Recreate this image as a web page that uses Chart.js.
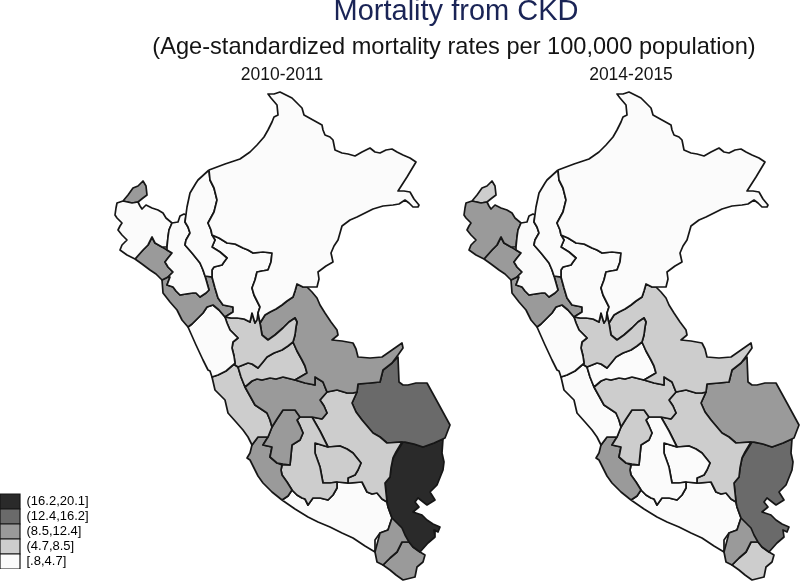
<!DOCTYPE html>
<html><head><meta charset="utf-8">
<style>html,body{margin:0;padding:0;background:#fff}canvas{display:block}</style>
<script src="https://cdn.jsdelivr.net/npm/chart.js@4"></script></head>
<body><canvas id="c" width="800" height="581"></canvas>
<script>
// Region outlines (map units)
const tumbes=[[123,201],[128,195],[133,188],[138,186],[143,181],[146,186],[147,195],[143,198],[138,202],[132,203]];
const piura=[[123,201],[132,203],[138,202],[140,206],[142,209],[146,205],[152,208],[158,210],[163,213],[166,218],[172,223],[169,230],[168,237],[167,247],[162,247],[155,243],[152,237],[148,245],[143,250],[135,259],[127,255],[120,250],[122,245],[127,240],[122,235],[118,230],[120,226],[122,223],[117,218],[115,215],[116,208],[117,203]];
const lambayeque=[[135,259],[143,250],[148,245],[152,237],[155,243],[162,247],[167,250],[172,253],[168,258],[165,262],[168,267],[173,272],[168,277],[162,280],[156,274],[150,270],[142,264]];
const cajamarca=[[172,223],[178,222],[180,216],[184,214],[186,215],[185,222],[188,227],[190,233],[186,240],[185,245],[192,253],[200,263],[203,270],[205,276],[209,290],[206,293],[200,297],[196,293],[193,293],[186,294],[180,295],[176,291],[173,287],[167,285],[170,277],[168,277],[173,272],[168,267],[165,262],[168,258],[172,253],[167,250],[167,247],[168,237],[169,230]];
const amazonas=[[209,170],[210,180],[214,188],[217,200],[214,212],[208,223],[211,230],[212,235],[215,240],[212,247],[220,252],[227,258],[224,262],[222,265],[214,267],[212,270],[212,277],[205,276],[203,270],[200,263],[192,253],[185,245],[186,240],[190,233],[188,227],[185,222],[187,207],[190,193],[196,183],[198,180]];
const loreto=[[209,170],[225,164],[240,159],[250,152],[257,145],[264,137],[268,130],[272,122],[274,117],[278,115],[277,105],[271,98],[268,94],[274,94],[280,92],[286,95],[292,98],[298,104],[302,108],[304,115],[313,120],[322,125],[323,130],[325,135],[330,137],[333,140],[335,150],[342,153],[348,154],[355,156],[362,152],[370,148],[375,152],[380,153],[386,150],[392,149],[397,152],[403,155],[410,158],[416,162],[407,177],[398,191],[404,191],[410,192],[414,199],[419,205],[418,207],[413,207],[409,203],[405,200],[399,204],[393,205],[383,206],[373,209],[365,213],[357,217],[350,220],[342,226],[340,233],[338,240],[334,246],[331,253],[333,262],[326,266],[318,272],[319,279],[317,287],[310,287],[303,287],[297,284],[295,291],[293,297],[287,301],[282,305],[276,309],[270,312],[265,315],[260,323],[258,313],[260,307],[258,303],[254,295],[252,288],[255,280],[257,272],[262,271],[268,270],[271,262],[272,253],[263,252],[253,253],[248,250],[243,248],[235,244],[227,243],[219,238],[212,235],[211,230],[208,223],[214,212],[217,200],[214,188],[210,180]];
const sanMartin=[[212,235],[219,238],[227,243],[235,244],[243,248],[248,250],[253,253],[263,252],[272,253],[271,262],[268,270],[262,271],[257,272],[255,280],[252,288],[254,295],[258,303],[260,307],[258,313],[257,320],[255,323],[252,313],[250,322],[244,319],[237,318],[231,318],[225,317],[233,312],[233,307],[228,306],[223,305],[218,298],[215,288],[212,277],[212,270],[214,267],[222,265],[224,262],[227,258],[220,252],[212,247],[215,240]];
const laLibertad=[[162,280],[168,277],[170,277],[167,285],[173,287],[176,291],[180,295],[186,294],[193,293],[196,293],[200,297],[206,293],[209,290],[205,276],[212,277],[215,288],[218,298],[223,305],[228,306],[233,307],[233,312],[225,317],[219,310],[213,305],[207,307],[203,313],[198,318],[192,324],[188,327],[182,320],[177,310],[170,302],[163,293]];
const ancash=[[188,327],[192,324],[198,318],[203,313],[207,307],[213,305],[219,310],[225,317],[227,323],[230,330],[234,334],[238,338],[233,342],[232,348],[234,356],[235,363],[233,365],[226,371],[218,375],[212,377],[210,371],[208,370],[203,360],[196,345]];
const huanuco=[[225,317],[231,318],[237,318],[244,319],[250,322],[252,313],[255,323],[258,313],[260,323],[261,329],[262,335],[268,340],[275,335],[283,328],[289,322],[295,318],[297,322],[296,327],[295,335],[293,342],[288,346],[282,350],[274,353],[267,357],[263,362],[258,368],[252,364],[248,363],[243,365],[238,367],[235,365],[235,363],[234,356],[232,348],[233,342],[238,338],[234,334],[230,330],[227,323]];
const ucayali=[[260,323],[265,315],[270,312],[276,309],[282,305],[287,301],[293,297],[295,291],[297,284],[303,287],[307,287],[312,292],[317,298],[320,305],[325,313],[331,322],[337,330],[338,335],[332,340],[342,341],[353,343],[356,349],[358,357],[370,358],[382,357],[392,350],[402,343],[403,348],[398,355],[392,363],[383,370],[380,382],[370,383],[358,384],[357,392],[353,393],[347,393],[337,390],[327,392],[323,382],[315,377],[315,385],[305,383],[295,380],[307,373],[305,366],[302,360],[297,351],[293,342],[295,335],[296,327],[297,322],[295,318],[289,322],[283,328],[275,335],[268,340],[262,335],[261,329]];
const pasco=[[293,342],[297,351],[302,360],[305,366],[307,373],[295,380],[283,377],[276,379],[270,378],[262,380],[257,379],[252,381],[245,387],[241,377],[238,367],[243,365],[248,363],[252,364],[258,368],[263,362],[267,357],[274,353],[282,350],[288,346]];
const junin=[[245,387],[252,381],[257,379],[262,380],[270,378],[276,379],[283,377],[295,380],[305,383],[315,385],[315,377],[323,382],[327,392],[320,400],[324,406],[327,413],[322,419],[312,417],[300,417],[295,410],[289,410],[283,410],[277,419],[272,427],[270,420],[267,413],[261,409],[255,405],[250,396]];
const lima=[[233,365],[235,365],[238,367],[241,377],[245,387],[250,396],[255,405],[261,409],[267,413],[270,420],[272,427],[268,437],[263,437],[258,437],[252,445],[248,437],[243,430],[236,422],[228,413],[225,400],[215,390],[212,377],[218,375],[226,371]];
const huancavelica=[[272,427],[277,419],[283,410],[289,410],[295,410],[300,417],[297,420],[300,426],[303,433],[300,440],[292,445],[291,455],[290,465],[283,464],[277,463],[270,457],[272,447],[263,445],[268,437]];
const ica=[[252,445],[258,437],[263,437],[268,437],[263,445],[272,447],[270,457],[277,463],[282,465],[281,470],[282,475],[287,482],[292,490],[288,496],[282,500],[272,492],[263,483],[258,476],[255,470],[250,460],[247,458],[250,453]];
const ayacucho=[[300,417],[312,417],[320,431],[328,447],[315,443],[315,453],[320,467],[323,483],[330,483],[337,482],[337,488],[333,495],[328,500],[320,498],[313,498],[308,505],[305,499],[302,498],[297,495],[292,490],[287,482],[282,475],[281,470],[282,465],[290,465],[291,455],[292,445],[300,440],[303,433],[300,426],[297,420]];
const apurimac=[[315,443],[328,447],[340,446],[347,449],[353,453],[361,463],[358,470],[355,475],[348,478],[348,483],[337,482],[330,483],[323,483],[320,467],[315,453]];
const cusco=[[322,419],[327,413],[324,406],[320,400],[327,392],[337,390],[347,393],[353,393],[357,392],[352,403],[356,412],[362,420],[373,433],[380,437],[387,443],[402,442],[396,452],[393,458],[391,468],[390,477],[385,483],[387,502],[382,499],[377,493],[372,494],[367,492],[364,486],[362,482],[350,483],[348,483],[348,478],[355,475],[358,470],[361,463],[353,453],[347,449],[340,446],[328,447],[320,431],[312,417]];
const madreDeDios=[[357,392],[358,384],[370,383],[380,382],[383,370],[392,363],[398,357],[399,382],[403,385],[408,385],[416,383],[427,383],[438,403],[450,425],[445,438],[434,443],[423,447],[414,444],[405,442],[402,442],[387,443],[380,437],[373,433],[362,420],[356,412],[352,403]];
const puno=[[403,442],[414,444],[423,447],[434,443],[443,439],[442,453],[444,462],[443,470],[437,485],[430,492],[435,500],[427,505],[418,498],[415,502],[419,507],[413,512],[422,515],[427,520],[433,524],[440,527],[438,532],[434,530],[435,537],[428,543],[420,552],[413,547],[409,542],[405,535],[402,528],[392,518],[388,507],[387,502],[385,483],[390,477],[391,468],[393,458]];
const moquegua=[[392,518],[402,521],[407,530],[412,538],[409,542],[402,542],[397,552],[390,558],[383,565],[377,562],[375,552],[380,533],[388,530]];
const tacna=[[402,542],[409,542],[413,547],[420,552],[425,555],[423,562],[417,567],[415,577],[403,580],[396,575],[390,570],[383,565],[390,558],[397,552]];
const arequipa=[[282,500],[288,496],[292,490],[297,495],[302,498],[305,499],[308,505],[313,498],[320,498],[328,500],[333,495],[337,488],[337,482],[348,483],[350,483],[362,482],[364,486],[367,492],[372,494],[377,493],[382,499],[387,502],[388,507],[392,518],[388,530],[380,533],[375,540],[375,552],[365,546],[353,538],[342,533],[330,527],[318,522],[308,517],[295,509]];

const regions=[loreto,amazonas,cajamarca,sanMartin,piura,tumbes,lambayeque,laLibertad,ancash,huanuco,ucayali,pasco,junin,lima,huancavelica,ica,ayacucho,apurimac,cusco,madreDeDios,puno,moquegua,tacna,arequipa];
// Rate class of each region (0 = lowest class ... 4 = highest class), same order as regions
const classes2010=[0,0,0,0,0,2,2,2,0,1,2,1,2,1,2,2,1,1,1,3,4,2,2,0];
const classes2014=[0,0,0,0,2,1,2,2,0,1,1,0,1,0,1,2,0,0,1,2,3,2,1,0];
const classLabels=["[.8,4.7]","(4.7,8.5]","(8.5,12.4]","(12.4,16.2]","(16.2,20.1]"];
const classColors=["#fbfbfb","#cdcdcd","#9a9a9a","#6a6a6a","#2a2a2a"];
const mainTitle="Mortality from CKD";
const subTitle="(Age-standardized mortality rates per 100,000 population)";
const panelTitles=["2010-2011","2014-2015"];

const ink="#161616";
const build=(classes,axis)=>regions.map((r,i)=>({
  data:[...r,r[0]].map(([x,y])=>({x,y})),
  xAxisID:axis,yAxisID:"y",
  backgroundColor:classColors[classes[i]],
  borderColor:ink,borderWidth:1.7,
  fill:"shape",pointRadius:0,pointHoverRadius:0,tension:0,borderJoinStyle:"round"
}));
const textPlugin={id:"texts",
 afterLayout(chart){chart.legend.bottom-=12;},
 afterDraw(chart){
  const c=chart.ctx;c.save();c.textAlign="center";c.textBaseline="alphabetic";
  const put=(t,x,y,f,col)=>{c.font=f;c.fillStyle=col;c.fillText(t,x,y);};
  put(mainTitle,456,20,'29px "Liberation Sans"',"#1a2456");
  put(subTitle,454,54,'23.6px "Liberation Sans"',"#141414");
  put(panelTitles[0],282,80,'17.5px "Liberation Sans"',"#141414");
  put(panelTitles[1],631,80,'17.5px "Liberation Sans"',"#141414");
  c.restore();
}};
new Chart(document.getElementById("c"),{
  type:"line",
  data:{datasets:[...build(classes2010,"x"),...build(classes2014,"xRight")]},
  plugins:[textPlugin],
  options:{
    responsive:false,animation:false,events:[],
    layout:{padding:0},
    scales:{
      x:{type:"linear",min:0,max:800,display:false},
      xRight:{type:"linear",min:-349,max:451,display:false},
      y:{type:"linear",min:0,max:581,reverse:true,display:false}
    },
    plugins:{
      tooltip:{enabled:false},
      legend:{
        display:true,position:"chartArea",align:"end",
        labels:{
          boxWidth:20,boxHeight:15,padding:0,color:"#141414",
          font:{family:'"Liberation Sans"',size:13},
          generateLabels:()=>classLabels.map((t,i)=>({
            text:t,fillStyle:classColors[i],strokeStyle:ink,lineWidth:1.2,hidden:false,index:i
          })).reverse()
        }
      }
    }
  }
});
</script></body></html>
